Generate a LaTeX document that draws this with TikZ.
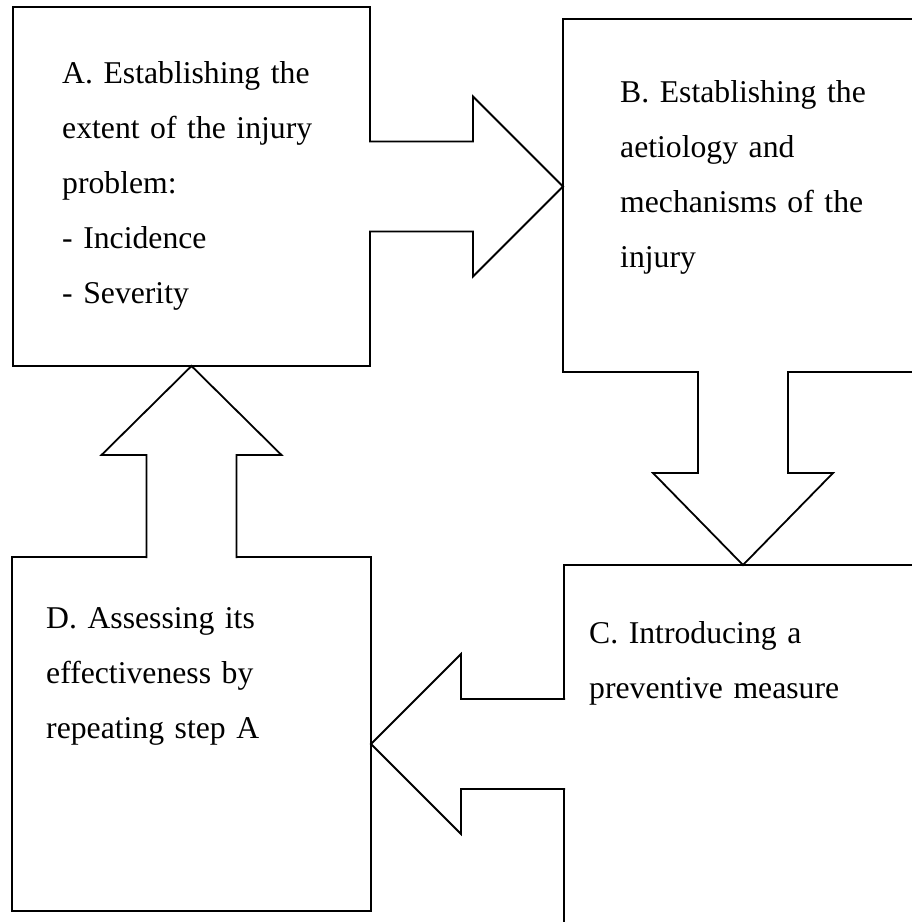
\documentclass[tikz,border=0pt]{standalone}
\usepackage{fontspec}
\setmainfont{Liberation Serif}
\usetikzlibrary{calc}

\tikzset{
	box/.style={rectangle, draw, line width=1.8pt, inner sep=0pt, outer sep=0pt},
	steptext/.style={anchor=base west, text width=330pt, align=left, inner sep=0pt, font=\fontsize{31.7}{55}\selectfont},
	blockline/.style={line width=1.8pt, preaction={fill=white}},
}

\begin{document}
\begin{tikzpicture}[x=1pt, y=-1pt]
	\useasboundingbox (0,0) rectangle (912,922);
	\clip (0,0) rectangle (912,922);

	\node[box, minimum width=357pt, minimum height=359pt] (boxA) at (191.5,186.5) {};
	\node[box, minimum width=360pt, minimum height=353pt] (boxB) at (743,195.5) {};
	\node[box, minimum width=359pt, minimum height=358pt] (boxC) at (743.5,744) {};
	\node[box, minimum width=359pt, minimum height=354pt] (boxD) at (191.5,734) {};

	\node[steptext] (textA) at (62,83) {A. Establishing the\\extent of the injury\\problem:\\- Incidence\\- Severity};
	\node[steptext] (textB) at (620,102) {B. Establishing the\\aetiology and\\mechanisms of the\\injury};
	\node[steptext] (textC) at (589,643) {C. Introducing a\\preventive measure};
	\node[steptext] (textD) at (46,628) {D. Assessing its\\effectiveness by\\repeating step A};

	% A to B
	\draw[blockline] ($(boxA.east)+(-1,-45)$) -- ($(boxA.east)+(103,-45)$) -- ($(boxA.east)+(103,-90)$) -- (boxA.east -| boxB.west) -- ($(boxA.east)+(103,90)$) -- ($(boxA.east)+(103,45)$) -- ($(boxA.east)+(-1,45)$);
	% B to C
	\draw[blockline] ($(boxB.south)+(-45,-1)$) -- ($(boxB.south)+(-45,101)$) -- ($(boxB.south)+(-90,101)$) -- (boxB.south |- boxC.north) -- ($(boxB.south)+(90,101)$) -- ($(boxB.south)+(45,101)$) -- ($(boxB.south)+(45,-1)$);
	% C to D
	\draw[blockline] ($(boxC.west)+(1,-45)$) -- ($(boxC.west)+(-103,-45)$) -- ($(boxC.west)+(-103,-90)$) -- (boxC.west -| boxD.east) -- ($(boxC.west)+(-103,90)$) -- ($(boxC.west)+(-103,45)$) -- ($(boxC.west)+(1,45)$);
	% D to A
	\draw[blockline] ($(boxD.north)+(-45,1)$) -- ($(boxD.north)+(-45,-102)$) -- ($(boxD.north)+(-90,-102)$) -- (boxD.north |- boxA.south) -- ($(boxD.north)+(90,-102)$) -- ($(boxD.north)+(45,-102)$) -- ($(boxD.north)+(45,1)$);
\end{tikzpicture}
\end{document}
